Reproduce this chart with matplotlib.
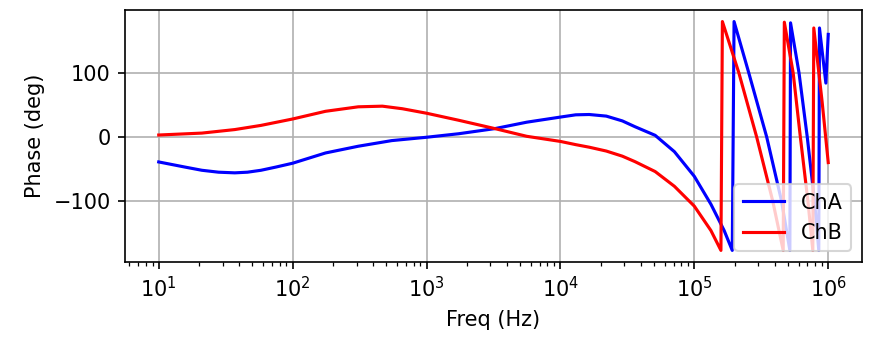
import matplotlib
matplotlib.use("Agg")
import matplotlib.pyplot as plt

# ChA phase
freq_a = [10, 15.7, 21, 28, 37, 46, 58, 75, 100, 176, 309, 550,
          1000, 1740, 3240, 5600, 1e4, 1.3e4, 1.64e4, 2.2e4, 2.9e4,
          3.6e4, 5.1e4, 7.1e4, 1e5, 1.33e5, 1.67e5, 1.92e5,
          1.98e5, 2.55e5, 3.47e5, 4.48e5, 5.17e5,
          5.23e5, 6.05e5, 6.97e5, 7.9e5, 8.5e5,
          8.6e5, 9.6e5, 1e6]
phase_a = [-39, -47, -52, -55, -56, -55, -52, -47, -41, -25, -14.5, -5.7,
           -0.5, 5, 13, 23, 31, 34.5, 35, 32.5, 25,
           16, 2.5, -23, -61.5, -105, -146, -177,
           180, 100, 0, -100, -177,
           178, 100, 0, -100, -177,
           170, 84, 160]

# ChB phase
freq_b = [10, 21, 37, 58, 100, 176, 309, 468, 660,
          1000, 1740, 3240, 5600, 1e4, 1.3e4, 1.64e4, 2.2e4, 2.9e4,
          3.6e4, 5.1e4, 7.1e4, 1e5, 1.33e5, 1.58e5,
          1.62e5, 2.15e5, 2.92e5, 3.85e5, 4.61e5,
          4.7e5, 5.47e5, 6.19e5, 7.05e5, 7.67e5,
          7.8e5, 9e5, 1e6]
phase_b = [3, 6, 11.5, 18, 28, 40, 47, 48, 44,
           37, 26, 13, 1, -7, -12, -16, -22, -30,
           -38.5, -54, -77, -108, -146, -177,
           180, 100, 0, -100, -177,
           179, 100, 0, -100, -177,
           170, 55, -40]

fig, ax = plt.subplots(figsize=(882 / 150, 337 / 150), dpi=150)
fig.subplots_adjust(left=0.142, right=0.977, top=0.970, bottom=0.223)

ax.semilogx(freq_a, phase_a, color="blue", label="ChA")
ax.semilogx(freq_b, phase_b, color="red", label="ChB")

ax.set_xlabel("Freq (Hz)")
ax.set_ylabel("Phase (deg)")
ax.grid(True)
ax.legend(loc="lower right")

fig.savefig("out.png")
